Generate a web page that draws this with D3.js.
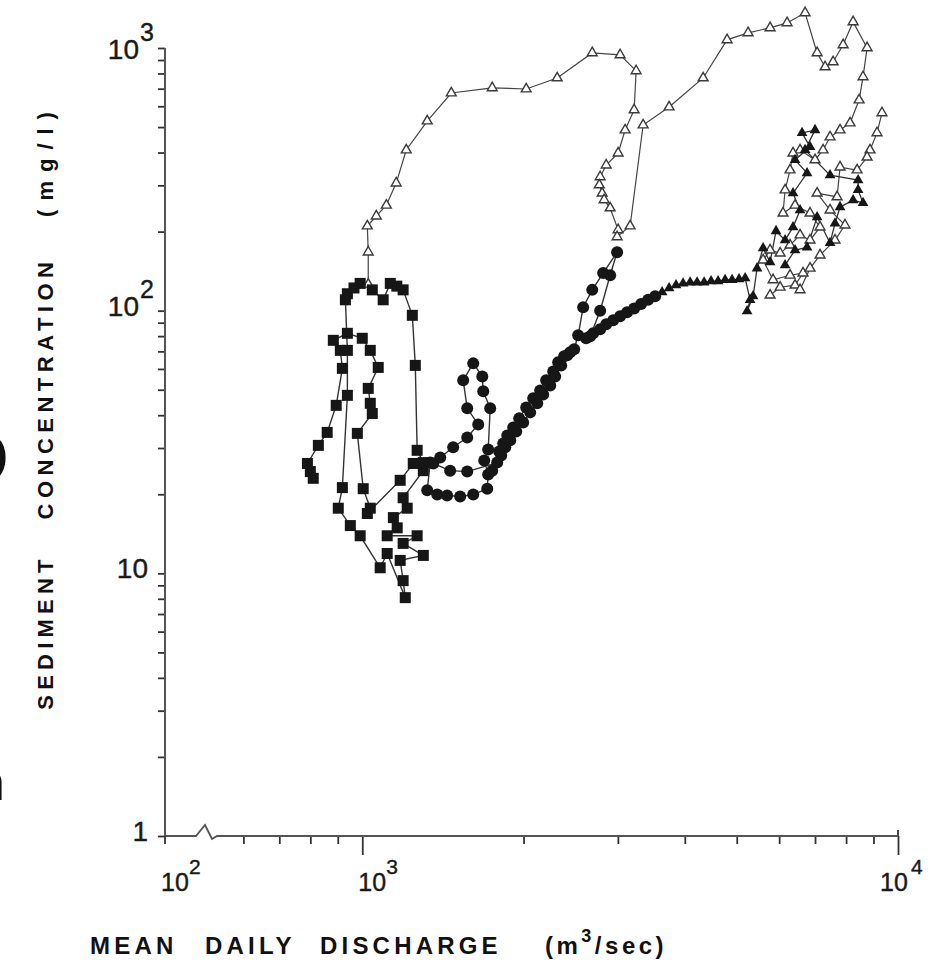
<!DOCTYPE html>
<html><head><meta charset="utf-8">
<script src="https://cdn.jsdelivr.net/npm/d3@7"></script>
<style>body{margin:0;background:#fff;}svg{display:block;}</style>
</head><body>
<svg id="c" width="950" height="967"></svg>
<script>
// ---- data (discharge m3/s, sediment mg/l) ----
const squares = [
[810,23.0],[800,24.4],[790,26.2],[828,30.7],[860,34.4],[894,43.6],[918,60.3],[910,70.6],[883,77.1],[938,82.0],[1000,78.5],
[1035,70.6],[1071,60.8],[1026,50.6],[1035,44.4],[1044,40.6],[979,34.1],[1004,21.0],[1035,17.7],[1022,16.9],[1177,22.6],
[1245,26.2],[1300,24.6],[1192,19.4],[1213,17.7],[1143,16.3],[1162,14.9],[1113,13.9],[1266,13.9],[1192,13.0],[1300,11.7],
[1177,11.2],[1192,9.38],[1203,8.08],[1113,11.9],[1080,10.5],[991,13.9],[950,15.2],[902,17.7],[918,21.2],[938,47.6],
[938,70.6],[930,110],[938,116],[965,122],[991,127],[1044,120],[1094,110],[1128,127],[1160,124],[1192,120],[1240,96.0],[1256,61.9],
[1266,29.4],[1300,26.4]
];
const circles = [
[1339,26.4],[1322,20.7],[1380,19.95],[1440,19.8],[1523,19.6],[1611,19.95],[1711,21.0],[1718,23.8],[1689,26.9],[1718,29.6],
[1733,42.5],[1682,49.3],[1675,56.2],[1611,63.0],[1543,54.3],[1570,42.5],[1646,36.9],[1570,32.9],[1478,30.2],[1398,27.6],
[1357,26.2],[1459,24.6],[1570,24.4],
[1786,26.4],[1817,28.1],[1849,30.2],[1889,32.1],[1938,34.7],[1997,37.5],[2058,41.0],[2121,44.4],[2176,48.0],[2243,51.9],
[2291,56.2],[2351,61.9],[2413,67.6],[2486,71.3],
[2529,80.6],[2584,103],[2687,120],[2816,139],[2990,167],[2902,136.4],[2780,100],[2664,79.9],
[2617,78.5],[2698,82.0],[2780,85.0],[2853,88.8],[2940,91.9],[3029,95.2],[3121,98.6],[3217,102],[3315,106],[3417,110],[3521,113.5]
];
const circlesReturn = [
[1748,24.6],[1801,29.1],[1833,31.2],[1865,33.5],[1913,35.9],[1963,38.9],[2023,42.8],[2085,46.4],[2148,49.7],[2204,54.3],
[2272,58.7],[2321,63.6],[2381,67.0],[2444,69.4]
];
const filledTriangles = [
[3628,117.5],[3739,121.7],[3852,125],[3970,127],[4093,128],[4217,128],[4346,128],[4478,129.5],[4615,129.5],[4756,131],
[4901,131],[5050,131.8],[5184,132.9],
[5296,110],[5228,99.5],[5364,113.5],[5457,145],[5600,173],[5771,153],[5920,201],[6155,185.5],[6369,208],[6564,241.4],
[6369,280],[6764,334],[6424,375],[6852,420],[6621,475],[7001,487],[6707,409],[7467,328],[8424,314],[8424,288],[8605,257],
[8245,263.6],[7795,248],[7629,215],[7467,181],[7063,227],[6764,174],[6424,170],[6155,149]
];
const openTriangles = [
[1026,126],[1026,167],[1022,210],[1062,229],[1109,252],[1157,306],[1208,409],[1322,527],[1466,674],[1748,705],
[2023,698],[2311,769],[2687,958],[3029,941],[3245,818],[3217,581],[3095,487],[3003,398],[2853,358],[2780,323],
[2770,301],[2804,280],[2828,264],[2902,246],[3003,203],[2990,191],[3162,210],[3344,509],[3739,596],[4328,769],
[4797,1074],[5250,1142],[5771,1193],[6208,1246],[6707,1361],[7063,958],[7310,847],[7566,885],[7899,1028],[8245,1257],
[8756,1001],[8605,776],[8460,634],
[8138,518],[7795,487],[7467,458],[7247,409],[7001,375],[6564,409],[6369,398],[6287,343],[6155,288],[6101,235],
[6424,252],[6852,235],[7153,208],[6852,185.5],[6564,194],[6287,177.6],[6025,165.5],[5771,170],[5600,155.7],[5845,131],
[6287,136.4],[6648,139],[6424,125],[6025,122.8],[5771,114.5]
];
const openTriangles2 = [
[9335,566],[9138,475],[8867,409],[8756,384],[8387,343],[7795,352],[7696,271],[7063,280],[7467,241.4],[7963,211.6],
[7629,185.5],[7153,162.7],[6852,145],[6564,120]
];
const yMajorTicks = [1,10,100,1000];
const yTickText = ["1","10","10","10"];
const yTickSup = ["","","2","3"];
const xMajorTicks = [1000,10000];
const xLabelValues = [100,1000,10000];
const xTickSup = ["2","3","4"];
const xMinorTicks = [600,700,800,900,2000,3000,4000,5000,6000,7000,8000,9000];
const xBreakValue = 500;
const yTitleWords = ["SEDIMENT","CONCENTRATION","(mg/l)"];
const xTitleWords = ["MEAN","DAILY","DISCHARGE"];

// ---- scales ----
const svg = d3.select("#c");
const X0 = 165, X1 = 898, YB = 836, YT = 48;
const xl = d3.scaleLinear().domain([2, Math.log10(xBreakValue), 4]).range([X0, 201, X1]);
const x = v => xl(Math.log10(v));
const y = d3.scaleLog().domain([1,1000]).range([YB, YT]);
const ink = "#161616";
const font = "'Liberation Sans', Arial, Helvetica, sans-serif";

// y axis ticks
const yMinor = [];
for (let d=1; d<1000; d*=10) for (let m=1; m<10; m++) yMinor.push(d*m);
yMinor.push(1000);
const gy = svg.append("g").attr("transform",`translate(${X0},0)`)
  .call(d3.axisLeft(y).tickValues(yMinor).tickSize(7).tickFormat(""));
gy.select(".domain").remove();
gy.selectAll("line").attr("stroke","#333").attr("stroke-width",1.8);
svg.append("line").attr("x1",X0).attr("x2",X0).attr("y1",y(1000)).attr("y2",y(1))
  .attr("stroke","#555").attr("stroke-width",2);

// y labels
const lab = sel => sel.attr("font-family",font).attr("fill","#1a1a1a").attr("stroke","#1a1a1a").attr("stroke-width",0.4);
yMajorTicks.forEach((v,i)=>{
  const by = Math.max(y(v)+5, 59);
  lab(svg.append("text")).attr("text-anchor","end").attr("x", yTickSup[i] ? 139 : 148)
    .attr("y", by).attr("font-size", 28).text(yTickText[i]);
  if (yTickSup[i]) lab(svg.append("text"))
    .attr("x",140).attr("y",by-18).attr("font-size",25).text(yTickSup[i]);
});

// x axis with break
const gx = svg.append("g").attr("transform",`translate(0,${YB})`)
  .call(d3.axisBottom(xl).tickValues(xMinorTicks.map(Math.log10)).tickSize(8).tickFormat(""));
gx.select(".domain").remove();
gx.selectAll("line").attr("stroke","#333").attr("stroke-width",1.8);
const gx2 = svg.append("g").attr("transform",`translate(0,${YB})`)
  .call(d3.axisBottom(xl).tickValues(xMajorTicks.map(Math.log10)).tickSize(19).tickFormat(""));
gx2.select(".domain").remove();
gx2.selectAll("line").attr("stroke","#333").attr("stroke-width",1.8);
svg.append("line").attr("x1",x(10000)).attr("x2",x(10000)).attr("y1",YB-6).attr("y2",YB)
  .attr("stroke","#333").attr("stroke-width",1.8);
const xb = x(xBreakValue);
svg.append("path").attr("fill","none").attr("stroke","#555").attr("stroke-width",1.8)
  .attr("d",`M${X0},${YB} L${xb-5},${YB} L${xb+4},${YB-11} L${xb+11},${YB+3} L${xb+16},${YB} L${X1},${YB}`);
svg.append("line").attr("x1",X0).attr("x2",X0).attr("y1",YB).attr("y2",YB+8).attr("stroke","#333").attr("stroke-width",1.8);

// x labels
xLabelValues.forEach((v,i)=>{
  const px = Math.min(x(v)-4, 880);
  lab(svg.append("text")).attr("font-size",25).attr("x",px).attr("y",891).text("10");
  lab(svg.append("text")).attr("font-size",21)
    .attr("x",px + (i===2?31:28)).attr("y",874).text(xTickSup[i]);
});

// x title
const xWordX = [90, 205, 320];
xTitleWords.forEach((w,i)=>{
  svg.append("text").attr("font-family",font).attr("font-weight","bold")
    .attr("font-size",24).attr("fill","#111").attr("letter-spacing",4.2)
    .attr("x",xWordX[i]).attr("y",954).text(w);
});
const unit = svg.append("text").attr("font-family",font).attr("font-weight","bold")
  .attr("font-size",24).attr("fill","#111").attr("x",545).attr("y",954).attr("letter-spacing",3.5);
unit.append("tspan").text("(m");
unit.append("tspan").attr("dy",-12).attr("font-size",18).text("3");
unit.append("tspan").attr("dy",12).text("/sec)");

// y title (three words, rotated)
const yWordC = [632, 388, 160];
const yWordLS = [5.2, 5.5, 9];
yTitleWords.forEach((w,i)=>{
  svg.append("text").attr("font-family",font).attr("font-weight","bold")
    .attr("font-size",22).attr("fill","#111").attr("letter-spacing",yWordLS[i])
    .attr("text-anchor","middle")
    .attr("transform",`translate(53,${yWordC[i]}) rotate(-90)`).text(w);
});

// scan edge fragments
svg.append("text").attr("font-family",font).attr("font-size",78).attr("fill","#111")
  .attr("x",-47).attr("y",485).text("D");
svg.append("text").attr("font-family",font).attr("font-size",50).attr("fill","#111")
  .attr("x",-23).attr("y",800).text("n");

// ---- series ----
const line = d3.line().x(d=>x(d[0])).y(d=>y(d[1]));
[[openTriangles,"#444",1.2],[openTriangles2,"#444",1.2],[squares,"#333",1.4],[circles,"#333",1.4],
 [circlesReturn,"#333",1.4],[filledTriangles,"#333",1.3]].forEach(([data,col,w])=>{
  svg.append("path").datum(data).attr("d",line).attr("fill","none").attr("stroke",col).attr("stroke-width",w);
});

const openTri = d3.symbol().type(d3.symbolTriangle).size(42)();
svg.append("g").selectAll("path").data(openTriangles.concat(openTriangles2)).join("path")
  .attr("d",openTri).attr("transform",d=>`translate(${x(d[0])},${y(d[1])})`)
  .attr("fill","#fff").attr("stroke","#3a3a3a").attr("stroke-width",1.4);
svg.append("g").selectAll("path").data(filledTriangles).join("path")
  .attr("d",d3.symbol().type(d3.symbolTriangle).size(50)()).attr("transform",d=>`translate(${x(d[0])},${y(d[1])})`)
  .attr("fill",ink);
svg.append("g").selectAll("rect").data(squares).join("rect")
  .attr("x",d=>x(d[0])-5.5).attr("y",d=>y(d[1])-5.5).attr("width",11).attr("height",11).attr("fill",ink);
svg.append("g").selectAll("circle").data(circles.concat(circlesReturn)).join("circle")
  .attr("cx",d=>x(d[0])).attr("cy",d=>y(d[1])).attr("r",6).attr("fill",ink);
</script>
</body></html>
